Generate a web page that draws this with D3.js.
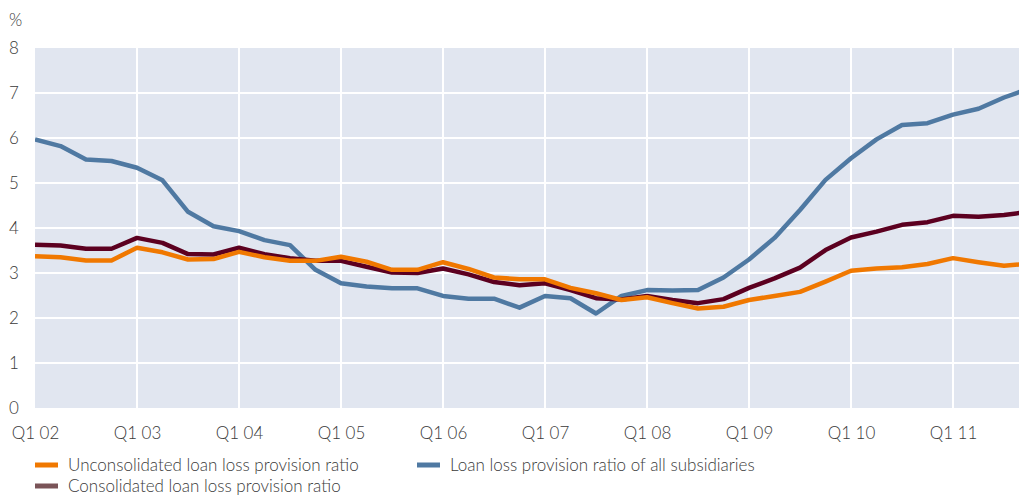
<!DOCTYPE html>
<html>
<head>
<meta charset="utf-8">
<script src="https://cdn.jsdelivr.net/npm/d3@7"></script>
<style>
  html, body { margin: 0; padding: 0; background: #ffffff; }
  svg text { font-family: "Lato", "Open Sans", sans-serif; font-weight: 300; fill: #3a3a3a; }
</style>
</head>
<body>
<svg id="chart" width="1019" height="495"></svg>
<script>
// Quarterly data Q1 02 ... Q4 11
const years = ["02","03","04","05","06","07","08","09","10","11"];
const tickLabels = years.map(y => "Q1 " + y);
const yTicks = [0, 1, 2, 3, 4, 5, 6, 7, 8];

const unconsolidated = [3.37, 3.35, 3.28, 3.28, 3.56, 3.46, 3.30, 3.31, 3.47, 3.35,
  3.27, 3.27, 3.36, 3.25, 3.07, 3.07, 3.24, 3.09, 2.90, 2.86,
  2.86, 2.67, 2.55, 2.40, 2.46, 2.33, 2.21, 2.25, 2.40, 2.49,
  2.58, 2.81, 3.05, 3.10, 3.13, 3.20, 3.33, 3.24, 3.16, 3.21];

const consolidated = [3.63, 3.61, 3.54, 3.54, 3.78, 3.67, 3.42, 3.41, 3.56, 3.42,
  3.33, 3.27, 3.27, 3.14, 3.01, 3.00, 3.10, 2.97, 2.80, 2.73,
  2.77, 2.62, 2.44, 2.41, 2.49, 2.40, 2.33, 2.42, 2.67, 2.88,
  3.12, 3.51, 3.79, 3.92, 4.07, 4.13, 4.27, 4.25, 4.29, 4.36];

const subsidiaries = [5.97, 5.82, 5.52, 5.49, 5.34, 5.06, 4.36, 4.04, 3.93, 3.73,
  3.62, 3.07, 2.77, 2.70, 2.66, 2.66, 2.49, 2.43, 2.43, 2.23,
  2.49, 2.44, 2.10, 2.49, 2.62, 2.61, 2.62, 2.90, 3.30, 3.78,
  4.40, 5.07, 5.55, 5.97, 6.29, 6.33, 6.52, 6.65, 6.90, 7.10];

const seriesNames = ["Unconsolidated loan loss provision ratio",
  "Consolidated loan loss provision ratio",
  "Loan loss provision ratio of all subsidiaries"];
const seriesColors = ["#f07800", "#5c0020", "#4f79a2"];
const legendColors = ["#f07800", "#7a5458", "#4f79a2"];

const W = 1019, H = 495;
const margin = { left: 35, right: 0, top: 48, bottom: 87 };
const plotW = W - margin.left - margin.right;
const plotH = H - margin.top - margin.bottom;

const svg = d3.select("#chart");
const g = svg.append("g").attr("transform", `translate(${margin.left},${margin.top})`);

// x: quarter index; one quarter = 25.5px, the plot ends before the last quarter
const x = d3.scaleLinear().domain([0, plotW / 25.5]).range([0, plotW]);
const y = d3.scaleLinear().domain([0, 8]).range([plotH, 0]);

g.append("rect").attr("width", plotW).attr("height", plotH).attr("fill", "#e1e6f0");

// grid
g.selectAll(".hgrid").data(yTicks.filter(v => v > 0 && v < 8)).enter()
  .append("line")
  .attr("x1", 0).attr("x2", plotW)
  .attr("y1", d => y(d)).attr("y2", d => y(d))
  .attr("stroke", "#fff").attr("stroke-width", 2);

const tickIdx = tickLabels.map((t, i) => i * 4);
g.selectAll(".vgrid").data(tickIdx.filter(i => i > 0)).enter()
  .append("line")
  .attr("x1", d => x(d)).attr("x2", d => x(d))
  .attr("y1", 0).attr("y2", plotH)
  .attr("stroke", "#fff").attr("stroke-width", 2);

// axes
const yAxis = d3.axisLeft(y).tickValues(yTicks).tickSize(0).tickPadding(0);
const ya = g.append("g").call(yAxis);
ya.select(".domain").remove();
ya.selectAll("text").attr("x", -26).attr("text-anchor", "start")
  .style("font-size", "17px").attr("dy", "0.35em");

const xAxis = d3.axisBottom(x).tickValues(tickIdx)
  .tickFormat((d, i) => tickLabels[i]).tickSize(0).tickPadding(0);
const xa = g.append("g").attr("transform", `translate(0,${plotH})`).call(xAxis);
xa.select(".domain").remove();
xa.selectAll("text").attr("y", 31).attr("dy", 0).style("font-size", "17px");

svg.append("text").attr("x", 9).attr("y", 26).text("%").style("font-size", "17px");

// lines
g.append("clipPath").attr("id", "clip").append("rect")
  .attr("width", plotW).attr("height", plotH);

const line = d3.line().x((d, i) => x(i)).y(d => y(d));
const lg = g.append("g").attr("clip-path", "url(#clip)");
const allSeries = [unconsolidated, consolidated, subsidiaries];
[2, 1, 0].forEach(k => {
  lg.append("path").datum(allSeries[k])
    .attr("fill", "none").attr("stroke", seriesColors[k])
    .attr("stroke-width", 4.5).attr("stroke-linejoin", "round")
    .attr("d", line);
});

// legend
const legendPos = [
  { x: 35, y: 465 }, { x: 35, y: 486 }, { x: 417, y: 465 }
];
legendPos.forEach((p, k) => {
  svg.append("line").attr("x1", p.x).attr("x2", p.x + 23)
    .attr("y1", p.y).attr("y2", p.y)
    .attr("stroke", legendColors[k]).attr("stroke-width", 5);
  svg.append("text").attr("x", p.x + 33).attr("y", p.y).attr("dy", "0.35em")
    .style("font-size", "17px").text(seriesNames[k]);
});
</script>
</body>
</html>
